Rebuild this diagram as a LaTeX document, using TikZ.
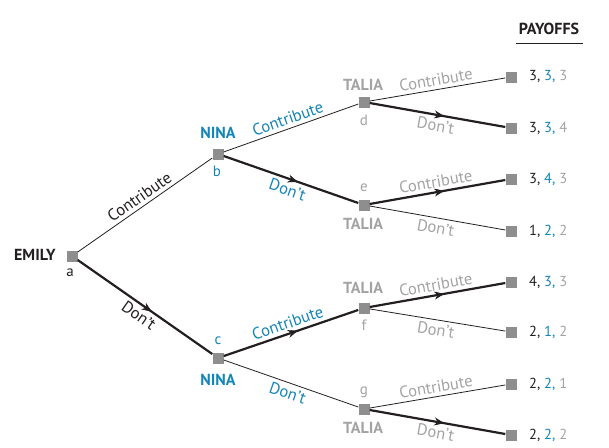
\documentclass[tikz,border=0pt]{standalone}
\usepackage{fontspec}
\setmainfont{PT Sans}
\usetikzlibrary{arrows.meta,decorations.markings}
\definecolor{ninablue}{HTML}{1584B6}
\definecolor{taliagray}{HTML}{A3A3A3}
\definecolor{sqgray}{HTML}{8E8E8E}
\definecolor{ink}{HTML}{231F20}
\begin{document}
\begin{tikzpicture}[x=1pt,y=-1pt,
  font=\fontsize{16}{18}\selectfont,
  decision/.style={rectangle,fill=sqgray,minimum size=11pt,inner sep=0pt},
  thinedge/.style={draw=ink,line width=0.8pt},
  thickedge/.style={draw=ink,line width=2.2pt,
    postaction={decorate,decoration={markings,
      mark=at position 0.55 with {\arrow[line width=0.6pt]{Stealth[length=10pt,width=8pt]}}}}},
  player/.style={font=\fontsize{16}{18}\selectfont\bfseries},
  letter/.style={font=\fontsize{15}{17}\selectfont},
  elabel/.style={sloped,inner sep=3.5pt,font=\fontsize{16.5}{18}\selectfont},
  payoff/.style={anchor=west,inner sep=0pt,font=\fontsize{14.5}{16}\selectfont}]
\useasboundingbox (0,0) rectangle (609,447);

% decision nodes
\node[decision] (a) at (72,256) {};
\node[decision] (b) at (218,154) {};
\node[decision] (c) at (218,358) {};
\node[decision] (d) at (364,102) {};
\node[decision] (e) at (364,205) {};
\node[decision] (f) at (364,308) {};
\node[decision] (g) at (364,409) {};
% terminal nodes
\node[decision] (t1) at (511,77) {};
\node[decision] (t2) at (511,128) {};
\node[decision] (t3) at (511,179) {};
\node[decision] (t4) at (511,231) {};
\node[decision] (t5) at (511,282) {};
\node[decision] (t6) at (511,332) {};
\node[decision] (t7) at (511,384) {};
\node[decision] (t8) at (511,435) {};

% player names and node letters
\node[player,text=ink,anchor=east] (emily) at (59,255) {EMILY};
\node[letter,text=ink] (la) at (70,273) {a};
\node[player,text=ninablue] (ninab) at (218,133) {NINA};
\node[letter,text=ninablue] (lb) at (217,171) {b};
\node[letter,text=ninablue] (lc) at (218,341) {c};
\node[player,text=ninablue] (ninac) at (218,380) {NINA};
\node[player,text=taliagray] (taliad) at (363,85) {TALIA};
\node[letter,text=taliagray] (ld) at (364,120) {d};
\node[letter,text=taliagray] (le) at (364,188) {e};
\node[player,text=taliagray] (taliae) at (363,224) {TALIA};
\node[player,text=taliagray] (taliaf) at (363,288) {TALIA};
\node[letter,text=taliagray] (lf) at (364,325) {f};
\node[letter,text=taliagray] (lg) at (364,392) {g};
\node[player,text=taliagray] (taliag) at (363,428) {TALIA};

% Emily's moves
\path[thinedge] (a) -- node[elabel,above,text=ink] {Contribute} (b);
\path[thickedge] (a) -- node[elabel,below,text=ink] {Don’t} (c);
% Nina's moves
\path[thinedge] (b) -- node[elabel,above,text=ninablue] {Contribute} (d);
\path[thickedge] (b) -- node[elabel,below,text=ninablue] {Don’t} (e);
\path[thickedge] (c) -- node[elabel,above,text=ninablue] {Contribute} (f);
\path[thinedge] (c) -- node[elabel,below,text=ninablue] {Don’t} (g);
% Talia's moves
\path[thinedge] (d) -- node[elabel,above,text=taliagray] {Contribute} (t1);
\path[thickedge] (d) -- node[elabel,below,text=taliagray] {Don’t} (t2);
\path[thickedge] (e) -- node[elabel,above,text=taliagray] {Contribute} (t3);
\path[thinedge] (e) -- node[elabel,below,text=taliagray] {Don’t} (t4);
\path[thickedge] (f) -- node[elabel,above,text=taliagray] {Contribute} (t5);
\path[thinedge] (f) -- node[elabel,below,text=taliagray] {Don’t} (t6);
\path[thinedge] (g) -- node[elabel,above,text=taliagray] {Contribute} (t7);
\path[thickedge] (g) -- node[elabel,below,text=taliagray] {Don’t} (t8);

% payoffs
\node[player,text=ink] (payoffs) at (549,29) {PAYOFFS};
\coordinate (ul) at (516,43);
\coordinate (ur) at (583,43);
\draw[ink,line width=1pt] (ul) -- (ur);
\node[payoff] (p1) at (529,77) {\textcolor{ink}{3,} \textcolor{ninablue}{3,} \textcolor{taliagray}{3}};
\node[payoff] (p2) at (529,128) {\textcolor{ink}{3,} \textcolor{ninablue}{3,} \textcolor{taliagray}{4}};
\node[payoff] (p3) at (529,179) {\textcolor{ink}{3,} \textcolor{ninablue}{4,} \textcolor{taliagray}{3}};
\node[payoff] (p4) at (529,231) {\textcolor{ink}{1,} \textcolor{ninablue}{2,} \textcolor{taliagray}{2}};
\node[payoff] (p5) at (529,282) {\textcolor{ink}{4,} \textcolor{ninablue}{3,} \textcolor{taliagray}{3}};
\node[payoff] (p6) at (529,332) {\textcolor{ink}{2,} \textcolor{ninablue}{1,} \textcolor{taliagray}{2}};
\node[payoff] (p7) at (529,384) {\textcolor{ink}{2,} \textcolor{ninablue}{2,} \textcolor{taliagray}{1}};
\node[payoff] (p8) at (529,435) {\textcolor{ink}{2,} \textcolor{ninablue}{2,} \textcolor{taliagray}{2}};
\end{tikzpicture}
\end{document}
